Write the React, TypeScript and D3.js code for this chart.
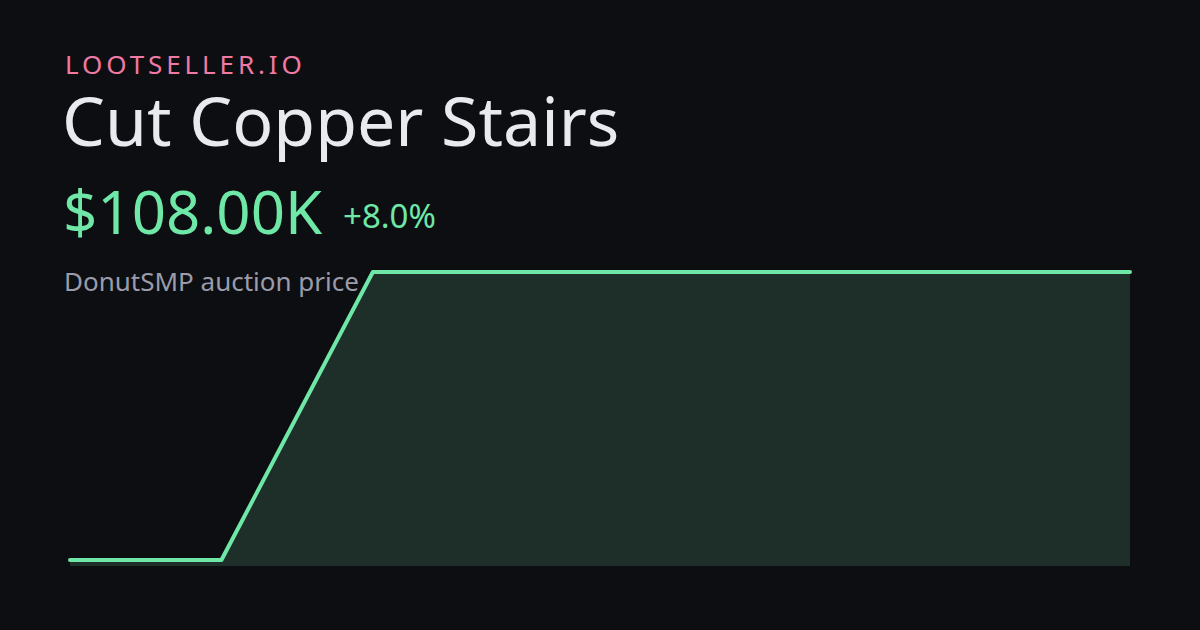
import React from "react";
import * as d3 from "d3";

const brand = "LOOTSELLER.IO";
const itemName = "Cut Copper Stairs";
const priceLabel = "$108.00K";
const changeLabel = "+8.0%";
const subtitle = "DonutSMP auction price";
const pointIndex = [0, 1, 2, 3, 4, 5, 6, 7];
const priceK = [100, 100, 108, 108, 108, 108, 108, 108];

const W = 1200;
const H = 630;

export default function App() {
  const x = d3.scaleLinear().domain([0, pointIndex.length - 1]).range([70, 1130]);
  const y = d3.scaleLinear().domain([100, 108]).range([560, 272]);
  const data = pointIndex.map((i) => ({ i, v: priceK[i] }));
  const line = d3.line<any>().x((d) => x(d.i)).y((d) => y(d.v));
  const area = d3.area<any>().x((d) => x(d.i)).y0(566).y1((d) => y(d.v));
  const font = "'Noto Sans', 'Open Sans', sans-serif";
  return (
    <svg width={W} height={H} style={{ position: "absolute", left: 0, top: 0, display: "block" }}>
      <rect width={W} height={H} fill="#0d0e12" />
      <path d={area(data) || ""} fill="#1e2f2a" />
      <path d={line(data) || ""} fill="none" stroke="#6ee7a7" strokeWidth={4} strokeLinecap="round" strokeLinejoin="round" />
      <text x={65} y={74} fill="#f07aa3" fontFamily={font} fontSize={26} letterSpacing={3.9}>{brand}</text>
      <text x={62} y={146} fill="#e9eaef" fontFamily={font} fontSize={68}>{itemName}</text>
      <text x={63} y={234} fill="#6ee7a7" fontFamily={font} fontSize={60}>{priceLabel}</text>
      <text x={343} y={228} fill="#6ee7a7" fontFamily={font} fontSize={33}>{changeLabel}</text>
      <text x={64} y={291} fill="#9a9cab" fontFamily={font} fontSize={26}>{subtitle}</text>
    </svg>
  );
}
